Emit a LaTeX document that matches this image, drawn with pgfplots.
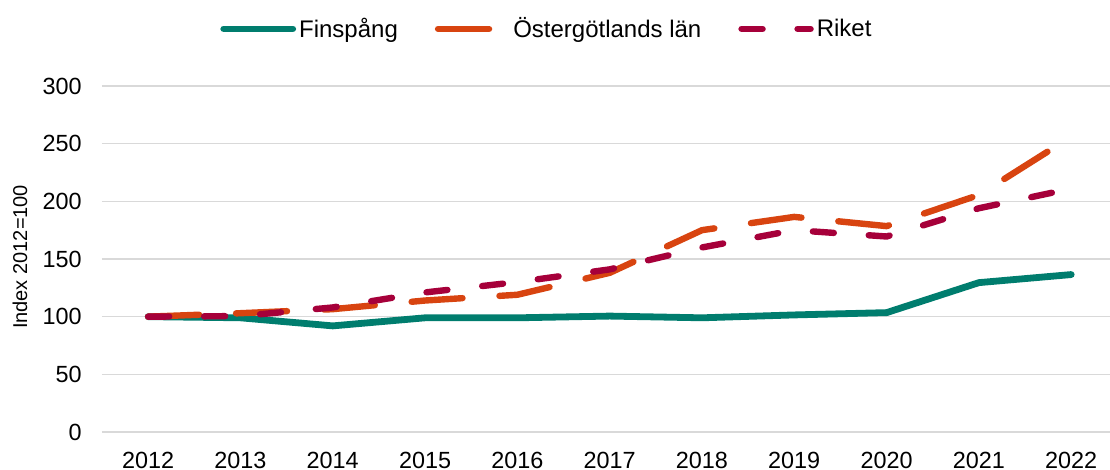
\documentclass[border=0pt]{standalone}
\usepackage{pgfplots}
\pgfplotsset{compat=1.18}
\usepackage{fontspec}
\setmainfont{Liberation Sans}
\definecolor{cgreen}{RGB}{0,125,110}
\definecolor{corange}{RGB}{216,68,16}
\definecolor{criket}{RGB}{166,0,58}
\definecolor{cgrid}{RGB}{217,217,217}
\begin{document}
\begin{tikzpicture}
\useasboundingbox (0,0) rectangle (555pt,235pt);
\begin{axis}[
  at={(51pt,19pt)}, anchor=south west,
  scale only axis, width=504pt, height=173pt,
  xmin=2011.5, xmax=2022.42, ymin=0, ymax=300,
  xtick={2012,...,2022}, ytick={0,50,...,300},
  x tick label style={/pgf/number format/1000 sep={}},
  /pgf/number format/assume math mode=true,
  axis line style={draw=none},
  major tick length=0pt,
  ymajorgrids, grid style={cgrid, line width=0.75pt},
  tick label style={font=\fontsize{11.7}{13}\selectfont},
  xticklabel style={anchor=center, yshift=-14pt},
  yticklabel style={anchor=east, inner sep=0pt, xshift=-10pt},
  ylabel={Index 2012=100},
  ylabel style={at={(axis description cs:-0.0813,0.506)}, anchor=center, rotate=0, font=\fontsize{10}{11}\selectfont},
  legend columns=-1,
  legend style={draw=none, fill=none, at={(axis description cs:0.117,1.165)}, anchor=west, inner sep=0pt,
    font=\fontsize{12}{13}\selectfont, nodes={inner sep=1.5pt},
    /tikz/every even column/.append style={column sep=17pt}},
  legend image code/.code={\draw[#1] (0pt,0pt) -- (34.5pt,0pt);},
  every axis plot/.append style={line width=3.2pt, line cap=round, line join=round},
]
\addplot[cgreen, line width=3.4pt] coordinates {
(2012,100) (2013,99) (2014,92) (2015,99) (2016,99) (2017,100.5) (2018,99) (2019,101.5) (2020,103.5) (2021,129.5) (2022,136.5)};
\addlegendentry{Finspång}
\addplot[corange, dash pattern=on 25.5pt off 18.5pt] coordinates {
(2012,100) (2013,103) (2014,106.5) (2015,114) (2016,119) (2017,138) (2018,175) (2019,186.5) (2020,178.5) (2021,205.5) (2022,256)};
\addlegendentry{Östergötlands län}
\addplot[criket, dash pattern=on 10.5pt off 17.5pt] coordinates {
(2012,100) (2013,100.5) (2014,108) (2015,121) (2016,130) (2017,141) (2018,160) (2019,175) (2020,169.5) (2021,194) (2022,211)};
\addlegendentry{Riket}
\end{axis}
\end{tikzpicture}
\end{document}
